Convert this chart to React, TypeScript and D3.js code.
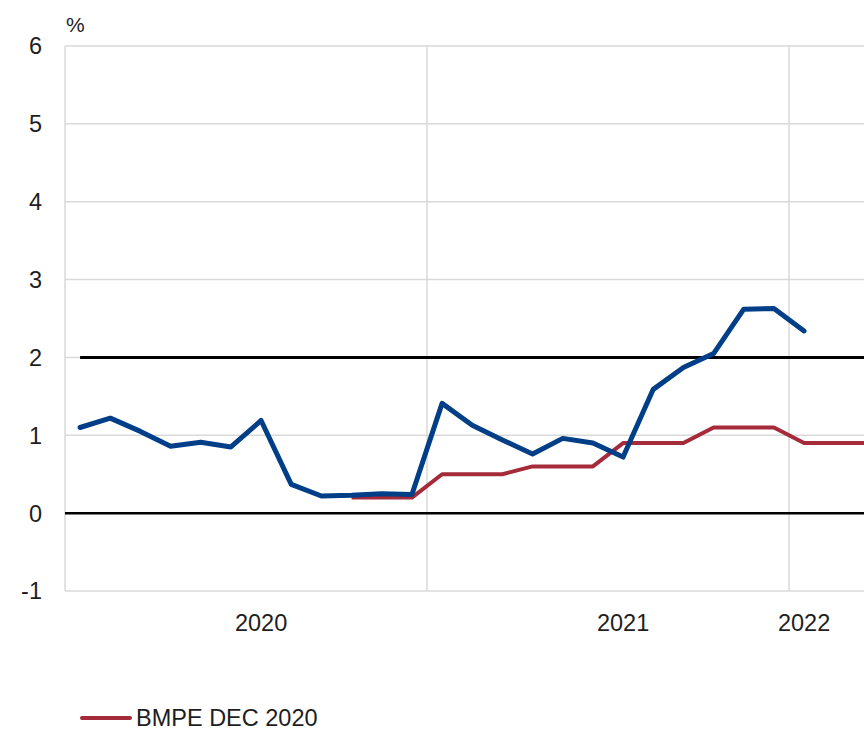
import * as d3 from 'd3';

// monthly points, index 0 = first observation
const actual = [1.1, 1.22, 1.05, 0.86, 0.91, 0.85, 1.19, 0.37, 0.22, 0.23, 0.25, 0.24, 1.41, 1.13, 0.94, 0.76, 0.96, 0.9, 0.72, 1.59, 1.87, 2.05, 2.62, 2.63, 2.34];
const bmpeStart = 9;
const bmpe = [0.2, 0.2, 0.2, 0.5, 0.5, 0.5, 0.6, 0.6, 0.6, 0.9, 0.9, 0.9, 1.1, 1.1, 1.1, 0.9, 0.9, 0.9];
const target = 2;
const yTicks = [-1, 0, 1, 2, 3, 4, 5, 6];
const xTickIdx = [6, 18, 24];
const xTickLabels = ['2020', '2021', '2022'];
const yearBreaks = [11.5, 23.5];
const legendLabel = 'BMPE DEC 2020';

const W = 864;
const H = 731;
const FONT = '"Liberation Sans", Arial, sans-serif';
const BLUE = '#003f87';
const RED = '#a52a3a';
const GRID = '#d9d9d9';
const TXT = '#1e1e1e';

export default function App() {
  const left = 65;
  const right = 864;
  const x = d3.scaleLinear().domain([-0.5, 23.5]).range([left, 789]);
  const y = d3.scaleLinear().domain([-1, 6]).range([591, 46]);

  const line = d3.line<[number, number]>()
    .x(d => x(d[0]))
    .y(d => y(d[1]));

  const actualPts = actual.map((v, i) => [i, v] as [number, number]);
  const bmpePts = bmpe.map((v, i) => [i + bmpeStart, v] as [number, number]);

  return (
    <svg width={W} height={H} style={{ position: 'absolute', left: 0, top: 0, background: '#fff' }} fontFamily={FONT}>
      {/* horizontal grid */}
      {yTicks.map(t => (
        <line key={'g' + t} x1={left} x2={right} y1={y(t)} y2={y(t)} stroke={GRID} strokeWidth={1.5} />
      ))}
      {/* vertical lines: axis + year breaks */}
      <line x1={left} x2={left} y1={y(6)} y2={y(-1)} stroke={GRID} strokeWidth={1.5} />
      {yearBreaks.map(b => (
        <line key={'v' + b} x1={x(b)} x2={x(b)} y1={y(6)} y2={y(-1)} stroke={GRID} strokeWidth={1.5} />
      ))}

      {/* zero line and target */}
      <line x1={left} x2={right} y1={y(0)} y2={y(0)} stroke="#000" strokeWidth={2.5} />
      <line x1={x(0)} x2={right} y1={y(target)} y2={y(target)} stroke="#000" strokeWidth={3} />

      {/* y labels */}
      {yTicks.map(t => (
        <text key={'l' + t} x={42} y={y(t)} dy="0.36em" textAnchor="end" fontSize={23.5} fill={TXT}>{t}</text>
      ))}
      <text x={66} y={32} fontSize={21} fill={TXT}>%</text>

      {/* x labels */}
      {xTickIdx.map((i, k) => (
        <text key={'x' + i} x={x(i)} y={631} textAnchor="middle" fontSize={23.5} fill={TXT}>{xTickLabels[k]}</text>
      ))}

      {/* series */}
      <path d={line(bmpePts) || ''} fill="none" stroke={RED} strokeWidth={4} strokeLinejoin="round" />
      <path d={line(actualPts) || ''} fill="none" stroke={BLUE} strokeWidth={5} strokeLinejoin="round" strokeLinecap="round" />

      {/* legend */}
      <line x1={82} x2={130} y1={718} y2={718} stroke={RED} strokeWidth={4} strokeLinecap="round" />
      <text x={136} y={726} fontSize={23.5} fill={TXT}>{legendLabel}</text>
    </svg>
  );
}
